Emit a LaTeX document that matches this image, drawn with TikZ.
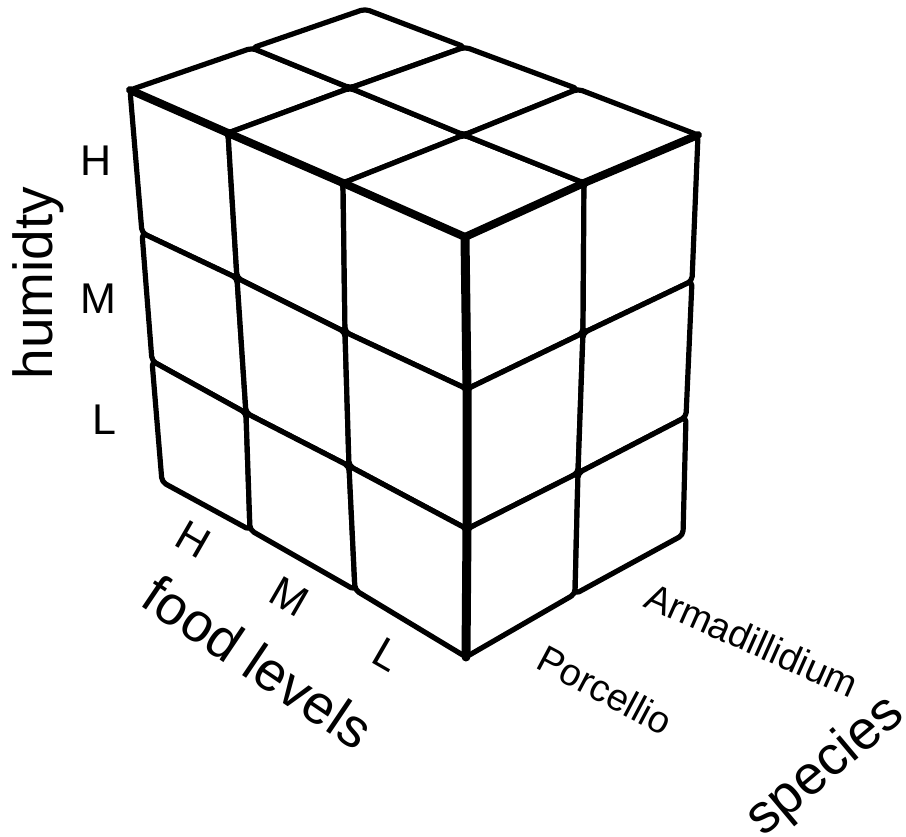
\documentclass[tikz,border=0pt]{standalone}
\usepackage{fontspec}
\setmainfont{Liberation Sans}
\begin{document}
\begin{tikzpicture}[x=1pt,y=-1pt,
  cell/.style={draw=black,fill=white,line width=5.2pt,rounded corners=4.5pt,line join=round},
  frontedge/.style={draw=black,line width=8pt,line cap=round,line join=round},
  lab/.style={font=\fontsize{43}{43}\selectfont,inner sep=0pt},
  biglab/.style={font=\fontsize{55}{55}\selectfont,inner sep=0pt},
  midlab/.style={font=\fontsize{38}{38}\selectfont,inner sep=0pt}]
\useasboundingbox (0,0) rectangle (906,837);
% top face grid
\coordinate (t00) at (130,90);  \coordinate (t10) at (228,133); \coordinate (t20) at (343,183); \coordinate (t30) at (465,237);
\coordinate (t01) at (252,48);  \coordinate (t11) at (350,88);  \coordinate (t21) at (464,135); \coordinate (t31) at (584,183);
\coordinate (t02) at (365,9);   \coordinate (t12) at (465,47);  \coordinate (t22) at (578,89);  \coordinate (t32) at (698,135);
% front-left face grid (food x humidity)
\coordinate (f00) at (130,90);  \coordinate (f01) at (142,233); \coordinate (f02) at (152,361); \coordinate (f03) at (162,482);
\coordinate (f10) at (228,133); \coordinate (f11) at (237,278); \coordinate (f12) at (246,413); \coordinate (f13) at (250,530);
\coordinate (f20) at (343,183); \coordinate (f21) at (345,332); \coordinate (f22) at (349,466); \coordinate (f23) at (355,590);
\coordinate (f30) at (465,237); \coordinate (f31) at (467,389); \coordinate (f32) at (467,529); \coordinate (f33) at (466,657);
% right face grid (species x humidity)
\coordinate (r00) at (f30); \coordinate (r01) at (f31); \coordinate (r02) at (f32); \coordinate (r03) at (f33);
\coordinate (r10) at (584,183); \coordinate (r11) at (583,333); \coordinate (r12) at (578,473); \coordinate (r13) at (575,594);
\coordinate (r20) at (698,135); \coordinate (r21) at (692,281); \coordinate (r22) at (686,417); \coordinate (r23) at (683,535);
% cells
\foreach \i/\ii in {0/1,1/2,2/3}{
  \foreach \j/\jj in {0/1,1/2}{
    \draw[cell] (t\i\j) -- (t\ii\j) -- (t\ii\jj) -- (t\i\jj) -- cycle;
  }
  \foreach \k/\kk in {0/1,1/2,2/3}{
    \draw[cell] (f\i\k) -- (f\ii\k) -- (f\ii\kk) -- (f\i\kk) -- cycle;
  }
}
\foreach \j/\jj in {0/1,1/2}{
  \foreach \k/\kk in {0/1,1/2,2/3}{
    \draw[cell] (r\j\k) -- (r\jj\k) -- (r\jj\kk) -- (r\j\kk) -- cycle;
  }
}
% emphasised front edges
\draw[frontedge] (t00) -- (t10) -- (t20) -- (t30) -- (t31) -- (t32);
\draw[frontedge,line width=9pt] (f30) -- (f31) -- (f32) -- (f33);
% labels
\node[biglab,rotate=90] (hum) at (38,283) {humidty};
\node[lab] (hH) at (96,161) {H};
\node[lab] (hM) at (98,299) {M};
\node[lab] (hL) at (104,420) {L};
\node[lab,rotate=-30] (fH) at (193,539) {H};
\node[lab,rotate=-30] (fM) at (289,597) {M};
\node[lab,rotate=-30] (fL) at (387,655) {L};
\node[biglab,rotate=-34] (food) at (258,662) {food levels};
\node[midlab,rotate=-28] (por) at (605,690) {Porcellio};
\node[midlab,rotate=-24] (arm) at (752,640) {Armadillidium};
\node[biglab,rotate=40] (spe) at (826,767) {species};
\end{tikzpicture}
\end{document}
